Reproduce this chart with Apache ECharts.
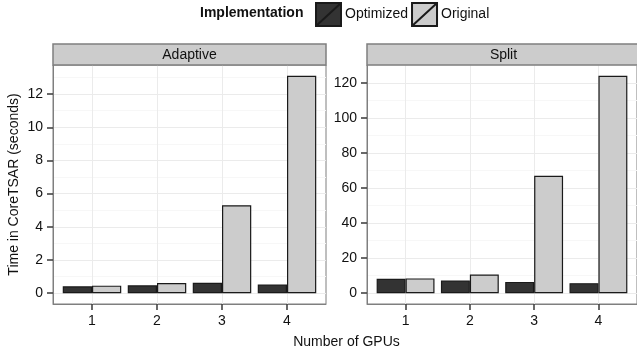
<!DOCTYPE html>
<html>
<head>
<meta charset="utf-8">
<script src="https://cdn.jsdelivr.net/npm/echarts@6/dist/echarts.min.js"></script>
<style>html,body{margin:0;padding:0;background:#fff;}#c{width:637px;height:358px;}</style>
</head>
<body>
<div id="c"></div>
<script>
// ---- data ----
var gpus = [1, 2, 3, 4];
var panels = ['Adaptive', 'Split'];
var seriesNames = ['Optimized', 'Original'];
var adaptiveOptimized = [0.41, 0.47, 0.62, 0.52];
var adaptiveOriginal = [0.45, 0.61, 5.3, 13.1];
var splitOptimized = [8.2, 7.2, 6.4, 5.7];
var splitOriginal = [8.4, 10.6, 67, 124];
var adaptiveTicks = [0, 2, 4, 6, 8, 10, 12];
var adaptiveMinor = [1, 3, 5, 7, 9, 11, 13];
var splitTicks = [0, 20, 40, 60, 80, 100, 120];
var splitMinor = [10, 30, 50, 70, 90, 110, 130];

// ---- layout ----
var FONT = '"Liberation Sans", Arial, Helvetica, sans-serif';
var panelTop = 65, panelH = 239, panelW = 273;
var panelLefts = [53, 367];
var stripTop = 44, stripH = 21;
var colors = ['#333333', '#CCCCCC'];
var tickStyle = {color: '#444444', width: 1.6};

function expandRange(vals) {
  var mx = Math.max.apply(null, vals), mn = 0;
  var pad = (mx - mn) * 0.05;
  return [mn - pad, mx + pad];
}
var ranges = [
  expandRange(adaptiveOptimized.concat(adaptiveOriginal)),
  expandRange(splitOptimized.concat(splitOriginal))
];
var majorTicks = [adaptiveTicks, splitTicks];
var minorTicks = [adaptiveMinor, splitMinor];
var seriesData = [[adaptiveOptimized, adaptiveOriginal], [splitOptimized, splitOriginal]];

var grids = [], xAxes = [], yAxes = [], series = [], graphics = [];
panels.forEach(function (p, i) {
  grids.push({left: panelLefts[i], top: panelTop, width: panelW, height: panelH,
    show: true, backgroundColor: '#fff', borderColor: '#7F7F7F', borderWidth: 1, z: 0});
  xAxes.push({type: 'value', gridIndex: i, min: 0.4, max: 4.6,
    axisLine: {show: true, onZero: false, lineStyle: {color: '#7F7F7F', width: 1}},
    axisTick: {show: true, customValues: gpus, length: 6, lineStyle: tickStyle},
    axisLabel: {customValues: gpus, color: '#111', fontSize: 14, fontFamily: FONT, margin: 10},
    splitLine: {show: true, lineStyle: {color: '#EBEBEB', width: 1}}
  });
  yAxes.push({type: 'value', gridIndex: i, min: ranges[i][0], max: ranges[i][1],
    axisLine: {show: true, onZero: false, lineStyle: {color: '#7F7F7F', width: 1}},
    axisTick: {show: true, customValues: majorTicks[i], length: 6, lineStyle: tickStyle},
    axisLabel: {customValues: majorTicks[i], color: '#111', fontSize: 14, fontFamily: FONT, margin: 10},
    splitLine: {show: true, lineStyle: {color: '#EBEBEB', width: 1}}
  });
  // minor gridlines axis
  yAxes.push({type: 'value', gridIndex: i, min: ranges[i][0], max: ranges[i][1], position: 'left',
    axisLine: {show: false, onZero: false},
    axisTick: {show: false, customValues: minorTicks[i]},
    axisLabel: {show: false, customValues: minorTicks[i]},
    splitLine: {show: true, lineStyle: {color: '#F7F7F7', width: 1}}
  });
  seriesNames.forEach(function (s, k) {
    series.push({
      name: s, type: 'bar', xAxisIndex: i, yAxisIndex: i * 2,
      data: gpus.map(function (g, j) { return [g, seriesData[i][k][j]]; }),
      barGap: '0%', barCategoryGap: '10%',
      itemStyle: {color: colors[k], borderColor: '#1a1a1a', borderWidth: 1.2},
      emphasis: {disabled: true}, animation: false, z: 3
    });
  });
  graphics.push({type: 'rect', shape: {x: panelLefts[i], y: stripTop, width: panelW, height: stripH},
    style: {fill: '#CCCCCC', stroke: '#7F7F7F', lineWidth: 1.5}, z: 10});
  graphics.push({type: 'text', x: panelLefts[i] + panelW / 2, y: stripTop + stripH / 2 + 1,
    style: {text: p, fill: '#111', font: '14px ' + FONT, align: 'center', verticalAlign: 'middle'}, z: 11});
});

graphics.push({type: 'text', x: 14, y: panelTop + panelH / 2, rotation: Math.PI / 2,
  style: {text: 'Time in CoreTSAR (seconds)', fill: '#111', font: '14px ' + FONT, align: 'center', verticalAlign: 'middle'}});
graphics.push({type: 'text', x: (panelLefts[0] + panelLefts[1] + panelW) / 2, y: 342,
  style: {text: 'Number of GPUs', fill: '#111', font: '14px ' + FONT, align: 'center', verticalAlign: 'middle'}});

var chart = echarts.init(document.getElementById('c'), null, {renderer: 'canvas'});
chart.setOption({
  backgroundColor: '#fff',
  animation: false,
  title: {text: 'Implementation', left: 200, top: 6, padding: 0,
    textStyle: {fontSize: 14, fontWeight: 'bold', color: '#111', fontFamily: FONT}},
  legend: {data: seriesNames, left: 315, top: 2, padding: 0, itemWidth: 25, itemHeight: 23, itemGap: 3,
    icon: 'path://M0,0 L25,0 L25,23 L0,23 Z M0,23 L25,0',
    textStyle: {fontSize: 14, color: '#111', fontFamily: FONT, padding: [0, 0, 0, -1]},
    selectedMode: false},
  grid: grids, xAxis: xAxes, yAxis: yAxes, series: series, graphic: graphics
});
</script>
</body>
</html>
